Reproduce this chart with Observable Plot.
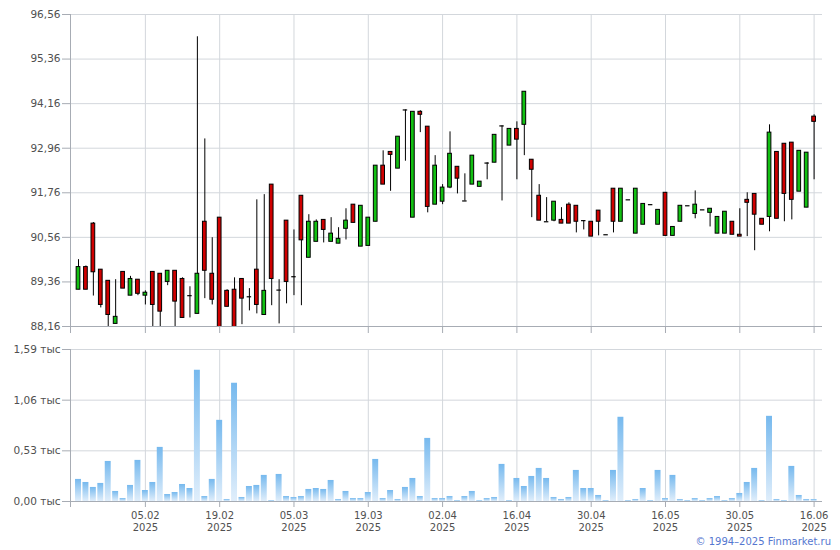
<!DOCTYPE html>
<html><head><meta charset="utf-8">
<script src="https://cdn.jsdelivr.net/npm/d3@7"></script>
<script src="https://cdn.jsdelivr.net/npm/@observablehq/plot@0.6"></script>
<style>
body{margin:0;background:#fff;}
#wrap{position:relative;width:840px;height:550px;font-family:"DejaVu Sans",Verdana,sans-serif;}
#wrap svg{display:block;}
#copy{position:absolute;right:9px;top:536px;font-size:10px;color:#5577d0;font-family:"DejaVu Sans",Verdana,sans-serif;white-space:nowrap;}
</style></head><body><div id="wrap"></div>
<script>
const opens  = [89.15,89.76,90.93,89.69,89.39,88.23,89.63,88.99,89.42,88.99,89.63,89.58,89.36,89.66,89.44,88.99,88.50,90.98,89.58,91.09,89.12,89.15,89.44,88.96,89.69,88.47,91.98,89.14,91.01,89.50,91.68,90.01,90.44,91.03,90.44,90.39,90.79,91.44,90.31,90.33,90.98,92.49,92.86,92.41,93.99,91.09,93.94,93.54,91.44,91.52,91.90,92.46,91.54,91.98,91.92,92.56,92.57,93.56,93.03,93.48,93.59,92.65,91.68,90.98,91.01,91.03,91.44,91.41,91.01,90.98,91.28,90.63,91.87,90.98,91.57,90.66,90.90,91.44,90.90,91.76,90.60,90.98,91.41,91.19,91.30,91.22,90.66,90.66,90.98,90.63,91.57,91.73,91.06,91.11,92.86,93.08,93.11,91.79,91.36,93.81];
const highs  = [89.96,89.79,90.96,89.69,89.39,89.42,89.63,89.51,89.42,89.12,89.63,89.58,89.66,89.66,89.47,89.23,95.96,93.21,90.55,91.09,89.15,89.47,89.44,89.18,91.57,91.71,91.98,89.42,91.01,90.76,91.68,91.17,91.03,91.03,91.09,90.82,91.33,91.44,91.41,91.09,92.49,92.89,92.86,93.27,93.99,93.94,93.97,93.54,92.76,91.98,93.40,92.46,92.27,92.76,92.06,92.57,93.32,93.56,93.48,93.67,94.48,92.65,91.98,91.63,91.52,91.36,91.49,91.41,91.01,90.98,91.28,90.63,91.87,91.87,91.57,91.87,91.46,91.44,91.30,91.76,90.84,91.41,91.41,91.81,91.30,91.33,91.11,91.25,90.98,91.33,91.76,91.73,91.06,93.59,92.86,93.08,93.11,92.89,92.84,93.86];
const lows   = [89.15,89.15,88.98,88.66,88.10,88.23,89.18,88.99,88.99,88.74,88.10,88.10,89.26,88.10,88.39,88.39,88.50,88.91,88.74,88.05,88.69,88.10,88.21,88.58,88.50,88.47,88.72,88.23,88.77,88.99,88.72,90.01,90.44,90.41,90.44,90.39,90.49,90.95,90.31,90.33,90.98,91.98,91.80,92.41,92.61,91.09,93.38,91.22,91.44,91.44,91.87,91.73,91.54,91.98,91.92,92.11,92.57,91.54,93.03,92.11,92.76,91.09,91.01,90.98,90.98,90.93,90.93,90.68,90.76,90.58,90.60,90.63,90.68,90.98,91.57,90.66,90.90,91.44,90.90,90.60,90.60,90.98,91.41,91.06,91.30,90.84,90.66,90.66,90.63,90.58,90.58,90.20,90.90,90.71,91.06,90.98,91.03,91.79,91.36,92.11];
const closes = [89.76,89.15,89.62,88.74,88.47,88.42,89.18,89.44,89.04,89.07,88.74,88.56,89.66,88.83,88.39,88.99,89.58,89.66,88.88,88.10,88.69,88.10,88.91,88.96,88.74,89.12,89.44,89.14,89.36,89.50,90.48,90.98,90.98,90.76,90.66,90.52,91.01,90.95,91.41,91.09,92.49,91.98,92.78,93.27,93.99,93.94,93.86,91.38,92.49,91.90,92.81,92.14,91.54,92.76,92.06,92.56,93.32,93.56,93.48,93.19,94.48,92.38,91.01,90.98,91.52,90.93,90.93,90.98,91.01,90.58,90.98,90.63,90.98,91.87,91.57,91.87,91.46,91.44,91.30,90.60,90.84,91.41,91.41,91.44,91.30,91.33,91.11,91.25,90.63,90.58,91.49,91.17,90.90,93.38,91.06,91.73,91.57,92.89,92.84,93.67];
const volumes = [0.231,0.199,0.147,0.189,0.419,0.105,0.031,0.168,0.430,0.115,0.199,0.566,0.073,0.094,0.178,0.136,1.373,0.052,0.231,0.849,0.021,1.237,0.042,0.157,0.168,0.273,0.010,0.283,0.052,0.042,0.052,0.126,0.136,0.126,0.220,0.021,0.105,0.031,0.031,0.094,0.440,0.031,0.115,0.021,0.147,0.241,0.052,0.660,0.031,0.031,0.052,0.010,0.052,0.105,0.010,0.031,0.042,0.388,0.010,0.241,0.157,0.262,0.346,0.241,0.042,0.021,0.042,0.325,0.136,0.136,0.063,0.010,0.325,0.881,0.010,0.021,0.136,0.010,0.325,0.031,0.273,0.021,0.010,0.031,0.010,0.031,0.052,0.010,0.031,0.084,0.199,0.346,0.010,0.891,0.021,0.010,0.367,0.063,0.021,0.021];
const tickIdx = [9,19,29,39,49,59,69,79,89,99];
const tickLabels = ["05.02","19.02","05.03","19.03","02.04","16.04","30.04","16.05","30.05","16.06"];
const tickYear = "2025";
const priceTicks = [88.16,89.36,90.56,91.76,92.96,94.16,95.36,96.56];
const volTicks = [0,0.53,1.06,1.59];

const data = opens.map((o,i)=>({i, open:o, high:highs[i], low:lows[i], close:closes[i], vol:volumes[i]}));
const bodies = data.filter(d=>d.open!==d.close);
const dojis = data.filter(d=>d.open===d.close);

const gridColor="#d3d7dc", axisColor="#a7acb4", textColor="#505050";
const green="#12c012", red="#d00000";
const xDomain=[-1.077, 100.13];
const fmt2 = d => d.toFixed(2).replace(".", ",");
const style = {fontFamily:"DejaVu Sans, Verdana, sans-serif", fontSize:"10.5px", color:textColor, background:"transparent", overflow:"visible"};

const price = Plot.plot({
  width:840, height:336, marginLeft:70, marginRight:18, marginTop:14, marginBottom:10,
  style,
  x:{type:"linear", domain:xDomain, label:null},
  y:{domain:[priceTicks[0], priceTicks[priceTicks.length-1]], label:null},
  marks:[
    Plot.ruleY(priceTicks.slice(1), {stroke:gridColor}),
    Plot.ruleX(tickIdx, {stroke:gridColor}),
    Plot.ruleX([xDomain[0]], {stroke:axisColor, insetBottom:-7}),
    Plot.ruleY([priceTicks[0]], {stroke:axisColor}),
    Plot.axisY({ticks:priceTicks, tickFormat:fmt2, tickSize:8, tickPadding:2, stroke:axisColor, fill:textColor, label:null}),
    Plot.axisX({ticks:tickIdx, tickFormat:()=>"", tickSize:7, stroke:axisColor, label:null}),
    Plot.ruleX(data, {x:"i", y1:"low", y2:"high", stroke:"#000", strokeWidth:1, clip:true}),
    Plot.rect(bodies, {x1:d=>d.i-0.25, x2:d=>d.i+0.25, y1:"open", y2:"close",
      fill:d=>d.close>d.open?green:red, stroke:"#000", strokeWidth:1, clip:true}),
    Plot.ruleY(dojis, {y:"open", x1:d=>d.i-0.3, x2:d=>d.i+0.3, stroke:"#000", strokeWidth:1.2, clip:true})
  ]
});

const vol = Plot.plot({
  width:840, height:214, marginLeft:70, marginRight:18, marginTop:13, marginBottom:49,
  style,
  x:{type:"linear", domain:xDomain, label:null},
  y:{domain:[volTicks[0], volTicks[volTicks.length-1]], label:null},
  marks:[
    Plot.ruleY(volTicks.slice(1), {stroke:gridColor}),
    Plot.ruleX(tickIdx, {stroke:gridColor}),
    Plot.rectY(data, {x1:d=>d.i-0.4, x2:d=>d.i+0.4, y:"vol", fill:"url(#volGrad)"}),
    Plot.ruleX([xDomain[0]], {stroke:axisColor, insetBottom:-6}),
    Plot.ruleY([0], {stroke:axisColor}),
    Plot.axisY({ticks:volTicks, tickFormat:d=>fmt2(d)+" тыс", tickSize:8, tickPadding:2, stroke:axisColor, fill:textColor, label:null}),
    Plot.axisX({ticks:tickIdx, tickFormat:d=>tickLabels[tickIdx.indexOf(d)]+"\n"+tickYear,
      tickSize:6, tickPadding:3, lineHeight:1.2, fontSize:10, stroke:axisColor, fill:textColor, label:null})
  ]
});

const defs = d3.select(vol).insert("defs", ":first-child");
const g = defs.append("linearGradient").attr("id","volGrad").attr("x1",0).attr("y1",0).attr("x2",0).attr("y2",1);
g.append("stop").attr("offset","0%").attr("stop-color","#76b9ee");
g.append("stop").attr("offset","100%").attr("stop-color","#e0eefb");

const wrap = document.getElementById("wrap");
wrap.appendChild(price);
wrap.appendChild(vol);
const copy = document.createElement("div");
copy.id = "copy";
copy.textContent = "© 1994–2025 Finmarket.ru";
wrap.appendChild(copy);
</script>
</body></html>
